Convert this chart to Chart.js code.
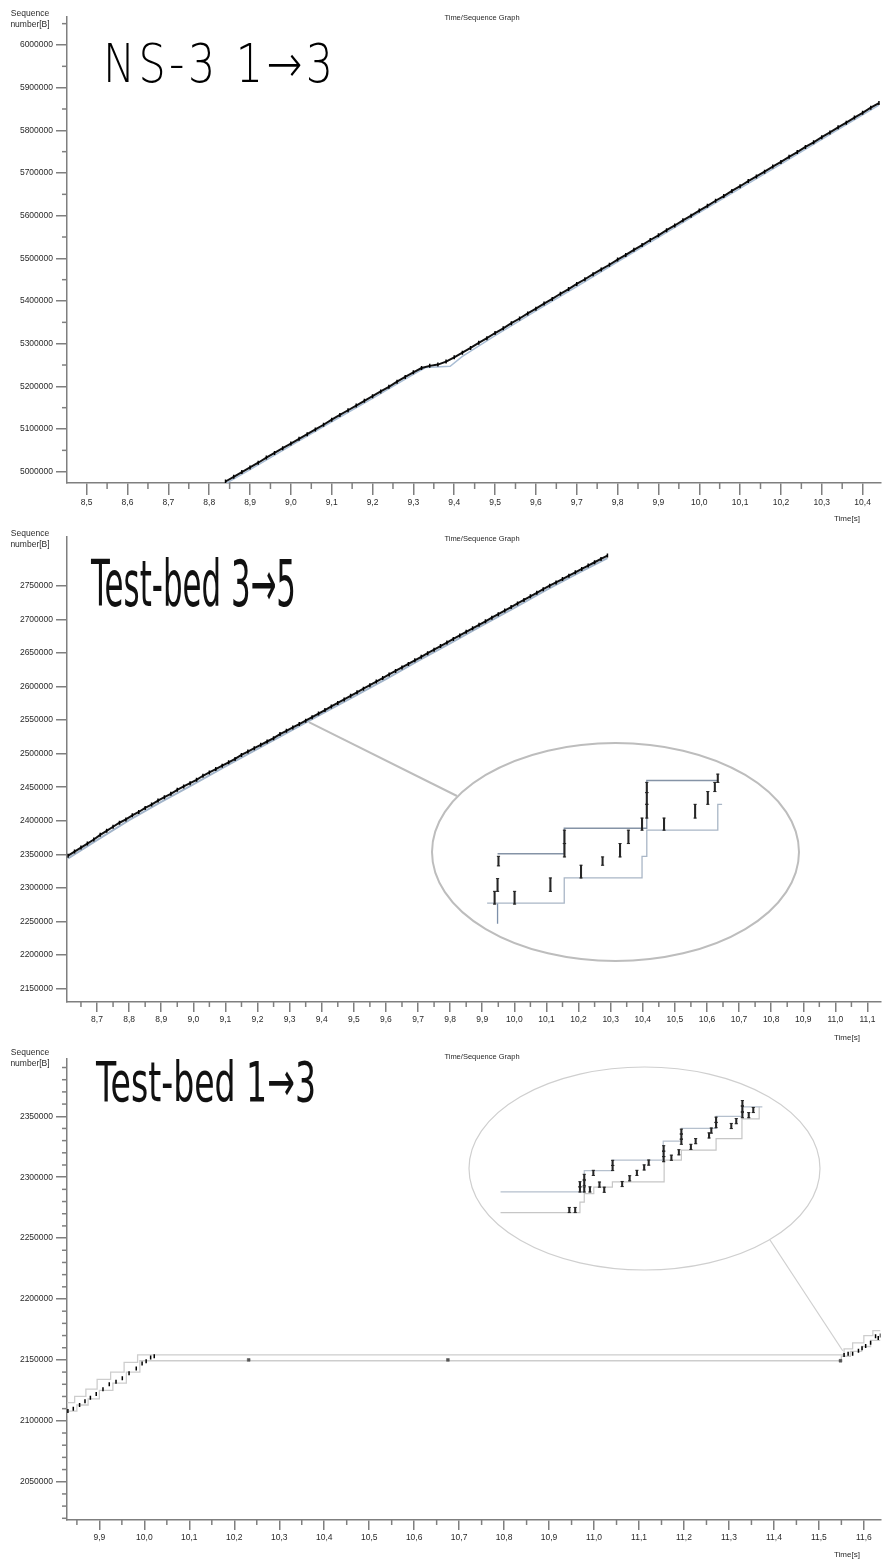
<!DOCTYPE html>
<html lang="en">
<head>
<meta charset="UTF-8">
<title>Time/Sequence Graph</title>
<script src="https://cdn.jsdelivr.net/npm/chart.js@4.4.1/dist/chart.umd.min.js"></script>
<style>
  body { margin: 0; background: #fff; width: 886px; height: 1563px; position: relative; overflow: hidden;
         font-family: 'Liberation Sans', Arial, sans-serif; color: #2a2a2a; }
  canvas { position: absolute; left: 0; }
  .ylab { position: absolute; left: 8px; width: 44px; text-align: center; font-size: 8.5px; line-height: 10.5px; }
  .ttl { position: absolute; left: 402px; width: 160px; text-align: center; font-size: 7.5px; line-height: 10px; }
  .xlab { position: absolute; left: 834px; font-size: 8px; line-height: 10px; }
  .big { position: absolute; white-space: nowrap; line-height: 1; transform-origin: 0 0; color: #000;
         font-family: 'DejaVu Sans', sans-serif; display: inline-block; }
</style>
</head>
<body>

<canvas id="c1" width="886" height="525" style="top:0"></canvas>
<canvas id="c2" width="886" height="520" style="top:525px"></canvas>
<canvas id="c3" width="886" height="518" style="top:1045px"></canvas>
<canvas id="i2" width="367" height="218" style="left:432px;top:743px"></canvas>
<canvas id="i3" width="351" height="203" style="left:469px;top:1067px"></canvas>

<div class="ylab" style="top:8px">Sequence<br>number[B]</div>
<div class="ylab" style="top:528px">Sequence<br>number[B]</div>
<div class="ylab" style="top:1047px">Sequence<br>number[B]</div>
<div class="ttl" style="top:13px">Time/Sequence Graph</div>
<div class="ttl" style="top:534px">Time/Sequence Graph</div>
<div class="ttl" style="top:1052px">Time/Sequence Graph</div>
<div class="xlab" style="top:514px">Time[s]</div>
<div class="xlab" style="top:1033px">Time[s]</div>
<div class="xlab" style="top:1550px">Time[s]</div>

<div class="big" id="t1" style="left:103px;top:37px;font-size:53px;font-weight:200;letter-spacing:0.08em" data-w="230">NS-3 1→3</div>
<div class="big" id="t2" style="left:91px;top:552px;font-size:64px;color:#111" data-w="205">Test-bed 3→5</div>
<div class="big" id="t3" style="left:96px;top:1054px;font-size:56px;color:#111" data-w="220">Test-bed 1→3</div>

<script>
// ---------- NS-3 1->3 (top panel) ----------
const ns3XTicks = [8.5, 8.6, 8.7, 8.8, 8.9, 9.0, 9.1, 9.2, 9.3, 9.4,
                   9.5, 9.6, 9.7, 9.8, 9.9, 10.0, 10.1, 10.2, 10.3, 10.4];
const ns3YTicks = [5000000, 5100000, 5200000, 5300000, 5400000, 5500000,
                   5600000, 5700000, 5800000, 5900000, 6000000];
const ns3Time = [
  8.84, 8.86, 8.88, 8.90, 8.92, 8.94, 8.96, 8.98, 9.00, 9.02,
  9.04, 9.06, 9.08, 9.10, 9.12, 9.14, 9.16, 9.18, 9.20, 9.22,
  9.24, 9.26, 9.28, 9.30, 9.32, 9.34, 9.36, 9.38, 9.40, 9.42,
  9.44, 9.46, 9.48, 9.50, 9.52, 9.54, 9.56, 9.58, 9.60, 9.62,
  9.64, 9.66, 9.68, 9.70, 9.72, 9.74, 9.76, 9.78, 9.80, 9.82,
  9.84, 9.86, 9.88, 9.90, 9.92, 9.94, 9.96, 9.98, 10.00, 10.02,
  10.04, 10.06, 10.08, 10.10, 10.12, 10.14, 10.16, 10.18, 10.20, 10.22,
  10.24, 10.26, 10.28, 10.30, 10.32, 10.34, 10.36, 10.38, 10.40, 10.42,
  10.44];
const ns3Seq = [
  4977000, 4988000, 4999000, 5010000, 5021000, 5033000, 5044000, 5055000, 5066000, 5077000,
  5088000, 5099000, 5110000, 5122000, 5133000, 5144000, 5155000, 5166000, 5177000, 5188000,
  5199000, 5211000, 5222000, 5233000, 5243000, 5248000, 5251000, 5258000, 5268000, 5279000,
  5290000, 5302000, 5313000, 5325000, 5336000, 5348000, 5359000, 5371000, 5382000, 5394000,
  5405000, 5417000, 5428000, 5440000, 5451000, 5463000, 5474000, 5485000, 5497000, 5508000,
  5520000, 5531000, 5543000, 5554000, 5566000, 5577000, 5589000, 5600000, 5612000, 5623000,
  5635000, 5646000, 5658000, 5669000, 5681000, 5692000, 5703000, 5715000, 5726000, 5738000,
  5749000, 5761000, 5772000, 5784000, 5795000, 5807000, 5818000, 5830000, 5841000, 5853000,
  5864000];
const ns3AckTime = [8.84, 8.90, 9.00, 9.10, 9.20, 9.30, 9.33, 9.39, 9.42, 9.50, 9.60, 9.70,
                    9.80, 9.90, 10.00, 10.10, 10.20, 10.30, 10.40, 10.44];
const ns3AckSeq  = [4972000, 5005000, 5061000, 5117000, 5172000, 5228000, 5244000, 5247000, 5270000, 5319000,
                    5377000, 5434000, 5492000, 5549000, 5607000, 5664000, 5721000, 5779000, 5836000, 5859000];

// ---------- Test-bed 3->5 (middle panel) ----------
const tb35XTicks = [8.7, 8.8, 8.9, 9.0, 9.1, 9.2, 9.3, 9.4, 9.5, 9.6, 9.7, 9.8, 9.9,
                    10.0, 10.1, 10.2, 10.3, 10.4, 10.5, 10.6, 10.7, 10.8, 10.9, 11.0, 11.1];
const tb35YTicks = [2150000, 2200000, 2250000, 2300000, 2350000, 2400000, 2450000,
                    2500000, 2550000, 2600000, 2650000, 2700000, 2750000];
const tb35Time = [
  8.61, 8.63, 8.65, 8.67, 8.69, 8.71, 8.73, 8.75, 8.77, 8.79,
  8.81, 8.83, 8.85, 8.87, 8.89, 8.91, 8.93, 8.95, 8.97, 8.99,
  9.01, 9.03, 9.05, 9.07, 9.09, 9.11, 9.13, 9.15, 9.17, 9.19,
  9.21, 9.23, 9.25, 9.27, 9.29, 9.31, 9.33, 9.35, 9.37, 9.39,
  9.41, 9.43, 9.45, 9.47, 9.49, 9.51, 9.53, 9.55, 9.57, 9.59,
  9.61, 9.63, 9.65, 9.67, 9.69, 9.71, 9.73, 9.75, 9.77, 9.79,
  9.81, 9.83, 9.85, 9.87, 9.89, 9.91, 9.93, 9.95, 9.97, 9.99,
  10.01, 10.03, 10.05, 10.07, 10.09, 10.11, 10.13, 10.15, 10.17, 10.19,
  10.21, 10.23, 10.25, 10.27, 10.29];
const tb35Seq = [
  2348000, 2354000, 2360000, 2366000, 2372000, 2379000, 2385000, 2391000, 2397000, 2402000,
  2408000, 2413000, 2419000, 2424000, 2430000, 2435000, 2440000, 2446000, 2451000, 2456000,
  2461000, 2467000, 2472000, 2477000, 2482000, 2487000, 2492000, 2498000, 2503000, 2508000,
  2513000, 2518000, 2523000, 2529000, 2534000, 2539000, 2544000, 2549000, 2554300, 2559600,
  2564900, 2570200, 2575400, 2580700, 2586000, 2591300, 2596600, 2601900, 2607200, 2612500,
  2617800, 2623100, 2628400, 2633600, 2638900, 2644200, 2649500, 2654800, 2660100, 2665400,
  2670700, 2676000, 2681300, 2686600, 2691800, 2697100, 2702400, 2707700, 2713000, 2718300,
  2723600, 2728900, 2734200, 2739500, 2744800, 2750000, 2755000, 2760000, 2765000, 2770000,
  2775000, 2780000, 2785000, 2790000, 2795000];
const tb35AckTime = [8.61, 8.70, 8.80, 8.90, 9.00, 9.10, 9.20, 9.30, 9.40, 9.50,
                     9.60, 9.70, 9.80, 9.90, 10.00, 10.10, 10.20, 10.29];
const tb35AckSeq  = [2344000, 2371000, 2401000, 2428000, 2454000, 2481000, 2507000, 2533000, 2559000, 2585000,
                     2611000, 2638000, 2664000, 2691000, 2717000, 2744000, 2769000, 2791000];

// zoom inset (relative time in ms, relative sequence in segments)
const z35Time = [3.3, 4.6, 5.0, 12.1, 27.9, 34.1, 34.1, 41.4, 50.9, 58.6,
                 62.3, 68.3, 70.4, 70.4, 70.4, 78.0, 91.7, 97.3, 100.4, 101.7];
const z35Lo   = [0, 1.0, 3.0, 0, 1.0, 3.7, 4.75, 2.05, 3.05, 3.7,
                 4.75, 5.8, 6.75, 7.83, 8.75, 5.8, 6.75, 7.83, 8.83, 9.55];
const z35Hi   = [1.0, 2.0, 3.75, 1.0, 2.05, 4.75, 5.8, 3.05, 3.7, 4.75,
                 5.8, 6.75, 7.83, 8.75, 9.55, 6.75, 7.83, 8.83, 9.55, 10.2];
const z35WinTime = [4.6, 34.0, 34.0, 70.4, 70.4, 101.7];
const z35WinSeq  = [3.95, 3.95, 5.95, 5.95, 9.7, 9.7];
const z35AckTime = [0, 34.0, 34.0, 68.3, 68.3, 70.4, 70.4, 101.7, 101.7, 103.6];
const z35AckSeq  = [0.075, 0.075, 2.05, 2.05, 3.75, 3.75, 5.8, 5.8, 7.83, 7.83];
const z35StubTime = [4.6, 4.6];
const z35StubSeq  = [0.075, -1.55];

// ---------- Test-bed 1->3 (bottom panel) ----------
const tb13XTicks = [9.9, 10.0, 10.1, 10.2, 10.3, 10.4, 10.5, 10.6, 10.7,
                    10.8, 10.9, 11.0, 11.1, 11.2, 11.3, 11.4, 11.5, 11.6];
const tb13YTicks = [2050000, 2100000, 2150000, 2200000, 2250000, 2300000, 2350000];
const tb13Time = [9.830, 9.842, 9.856, 9.868, 9.880, 9.893, 9.908, 9.922, 9.937, 9.951,
                  9.966, 9.982, 9.995, 10.004, 10.014, 10.022,
                  11.556, 11.565, 11.575, 11.588, 11.596, 11.604, 11.615, 11.626, 11.632, 11.637];
const tb13Seq  = [2108000, 2110000, 2113000, 2116000, 2119000, 2122000, 2126000, 2130000, 2132000, 2135000,
                  2139000, 2143000, 2147000, 2149000, 2152000, 2153000,
                  2154000, 2155000, 2155000, 2157500, 2159500, 2161500, 2164000, 2169500, 2168000, 2170000];
const tb13LossTime = [10.232, 10.675, 11.548];
const tb13LossSeq  = [2150000, 2150000, 2149300];
const tb13WinTime = [9.828, 9.845, 9.870, 9.895, 9.925, 9.955, 9.985, 10.008, 10.022,
                     11.556, 11.575, 11.600, 11.620, 11.637];
const tb13WinSeq  = [2112000, 2115000, 2120000, 2126000, 2134000, 2140000, 2148000, 2154200, 2154200,
                     2154200, 2159000, 2164000, 2170000, 2174000];
const tb13AckTime = [9.828, 9.850, 9.875, 9.900, 9.930, 9.960, 9.990, 10.004,
                     11.550, 11.570, 11.595, 11.615, 11.637];
const tb13AckSeq  = [2104000, 2108000, 2113000, 2118000, 2125000, 2131000, 2140000, 2149300,
                     2149300, 2153000, 2157000, 2161000, 2166000];

const z13Time = [30.3, 32.9, 35.0, 35.0, 36.9, 36.9, 36.9, 39.4, 40.9, 43.6,
                 45.7, 49.4, 49.4, 53.6, 56.9, 60.1, 63.3, 65.3, 71.9, 71.9,
                 71.9, 75.3, 78.6, 79.7, 79.7, 79.7, 83.9, 86.0, 91.9, 92.9,
                 95.0, 95.0, 101.7, 103.9, 106.6, 106.6, 106.6, 109.4, 111.4];
const z13Lo   = [0, 0, 3.6, 4.5, 3.6, 4.7, 5.8, 3.6, 6.5, 4.45,
                 3.55, 7.35, 8.25, 4.55, 5.55, 6.5, 7.45, 8.3, 8.9, 9.8,
                 10.8, 9.15, 10.1, 11.95, 12.85, 13.75, 11.05, 12.05, 13.05, 13.9,
                 14.85, 15.8, 14.7, 15.55, 16.6, 17.7, 18.7, 16.6, 17.5];
const z13Hi   = [0.9, 0.9, 4.5, 5.4, 4.5, 5.6, 6.7, 4.5, 7.4, 5.35,
                 4.45, 8.25, 9.15, 5.45, 6.45, 7.4, 8.35, 9.2, 9.8, 10.7,
                 11.7, 10.05, 11.0, 12.85, 13.75, 14.6, 11.95, 12.95, 13.95, 14.8,
                 15.75, 16.7, 15.6, 16.45, 17.5, 18.6, 19.6, 17.5, 18.4];
const z13WinTime = [0, 36.9, 36.9, 49.3, 49.3, 71.7, 71.7, 79.7, 79.7, 95, 95, 106.4, 106.4, 115.4];
const z13WinSeq  = [3.61, 3.61, 7.33, 7.33, 9.17, 9.17, 12.5, 12.5, 14.72, 14.72, 16.83, 16.83, 18.5, 18.5];
const z13AckTime = [0, 35, 35, 36.9, 36.9, 41.1, 41.1, 49.3, 49.3, 72.1, 72.1, 79.7, 79.7, 95, 95, 106.4, 106.4, 114, 114];
const z13AckSeq  = [0, 0, 1.83, 1.83, 3.33, 3.33, 4.44, 4.44, 5.39, 5.39, 9.17, 9.17, 10.94, 10.94, 12.94, 12.94, 16.39, 16.39, 18.5];

// ---------- helpers ----------
const pts = (xs, ys) => xs.map((x, i) => ({ x: x, y: ys[i] }));
const AXIS = '#7f7f7f';
const tickFont = { family: "'Liberation Sans', Arial, sans-serif", size: 8.5 };

// short ticks between the labelled ones
const minorTicks = {
  id: 'minorTicks',
  afterDraw(chart, args, opts) {
    const ctx = chart.ctx;
    ctx.save();
    ctx.strokeStyle = AXIS;
    ctx.lineWidth = 1.5;
    for (const axis of ['x', 'y']) {
      const o = opts[axis];
      if (!o) continue;
      const s = chart.scales[axis];
      const i0 = Math.ceil(s.min / o.step), i1 = Math.floor(s.max / o.step);
      for (let i = i0; i <= i1; i++) {
        if (i % o.every === 0) continue;
        const p = s.getPixelForValue(i * o.step);
        ctx.beginPath();
        if (axis === 'x') { ctx.moveTo(p, s.top); ctx.lineTo(p, s.top + o.len); }
        else { ctx.moveTo(s.right, p); ctx.lineTo(s.right - o.len, p); }
        ctx.stroke();
      }
    }
    ctx.restore();
  }
};

// zoom ellipse + leader line (page coordinates, leader starts on a data point)
const callout = {
  id: 'callout',
  afterDatasetsDraw(chart, args, o) {
    if (!o || !o.ellipse) return;
    const ctx = chart.ctx, top = o.panelTop;
    const [cx, cy, rx, ry] = o.ellipse;
    ctx.save();
    ctx.strokeStyle = o.color;
    ctx.lineWidth = o.width;
    ctx.beginPath();
    ctx.ellipse(cx, cy - top, rx, ry, 0, 0, 2 * Math.PI);
    ctx.stroke();
    const px = chart.scales.x.getPixelForValue(o.from[0]);
    const py = chart.scales.y.getPixelForValue(o.from[1]);
    ctx.beginPath();
    ctx.moveTo(px, py);
    ctx.lineTo(o.to[0], o.to[1] - top);
    ctx.stroke();
    ctx.restore();
  }
};

function seqGraph(id, c) {
  return new Chart(document.getElementById(id), {
    type: 'scatter',
    data: { datasets: c.datasets },
    options: {
      responsive: false,
      animation: false,
      events: [],
      layout: { padding: { top: c.padTop, left: 0, right: 0, bottom: 0 } },
      plugins: {
        legend: { display: false },
        tooltip: { enabled: false },
        minorTicks: c.minor,
        callout: c.callout || {}
      },
      scales: {
        x: {
          type: 'linear', min: c.xMin, max: c.xMax,
          afterBuildTicks: s => { s.ticks = c.xTicks.map(v => ({ value: v })); },
          ticks: { autoSkip: false, maxRotation: 0, padding: 3, color: '#2a2a2a', font: tickFont,
                   callback: v => v.toFixed(1).replace('.', ',') },
          grid: { drawOnChartArea: false, tickLength: c.xTick, color: AXIS, lineWidth: 1.5 },
          border: { color: AXIS, width: 1.5 },
          afterFit: s => { s.height = c.xAxisH; }
        },
        y: {
          type: 'linear', min: c.yMin, max: c.yMax,
          afterBuildTicks: s => { s.ticks = c.yTicks.map(v => ({ value: v })); },
          ticks: { autoSkip: false, padding: 3, color: '#2a2a2a', font: tickFont,
                   callback: v => String(Math.round(v)) },
          grid: { drawOnChartArea: false, tickLength: 11, color: AXIS, lineWidth: 1.5 },
          border: { color: AXIS, width: 1.5 },
          afterFit: s => { s.width = 67; }
        }
      }
    },
    plugins: [minorTicks, callout]
  });
}

function segs(xs, ys, showLine) {
  return { data: pts(xs, ys), showLine: showLine, borderColor: '#111', borderWidth: 2,
           pointStyle: 'line', rotation: 90, pointRadius: 2,
           pointBorderColor: '#000', pointBorderWidth: 1.5 };
}
function line(xs, ys, color, width, stepped) {
  return { data: pts(xs, ys), showLine: true, borderColor: color, borderWidth: width,
           pointRadius: 0, stepped: stepped || false };
}

// ---------- main graphs ----------
seqGraph('c1', {
  padTop: 17, xAxisH: 42, xTick: 12,
  xMin: 8.4518, xMax: 10.4438, yMin: 4973500, yMax: 6065600,
  xTicks: ns3XTicks, yTicks: ns3YTicks,
  minor: { x: { step: 0.05, every: 2, len: 6 }, y: { step: 50000, every: 2, len: 5 } },
  datasets: [
    segs(ns3Time, ns3Seq, true),
    line(ns3AckTime, ns3AckSeq, '#a9bdd4', 1.5)
  ]
});

seqGraph('c2', {
  padTop: 12, xAxisH: 43, xTick: 10,
  xMin: 8.6065, xMax: 11.1406, yMin: 2130000, yMax: 2822600,
  xTicks: tb35XTicks, yTicks: tb35YTicks,
  minor: { x: { step: 0.05, every: 2, len: 5 } },
  callout: { panelTop: 525, ellipse: [615.5, 852, 183.5, 109], from: [9.36, 2547000], to: [457, 796],
             color: '#bdbdbd', width: 2 },
  datasets: [
    segs(tb35Time, tb35Seq, true),
    line(tb35AckTime, tb35AckSeq, '#a3b5ca', 2)
  ]
});

seqGraph('c3', {
  padTop: 14, xAxisH: 43, xTick: 10,
  xMin: 9.828, xMax: 11.637, yMin: 2018600, yMax: 2397000,
  xTicks: tb13XTicks, yTicks: tb13YTicks,
  minor: { x: { step: 0.05, every: 2, len: 5 }, y: { step: 10000, every: 5, len: 5 } },
  callout: { panelTop: 1045, ellipse: [644.5, 1168.5, 175.5, 101.5], from: [11.553, 2157500], to: [770, 1240],
             color: '#cfcfcf', width: 1.2 },
  datasets: [
    segs(tb13Time, tb13Seq, false),
    { data: pts(tb13LossTime, tb13LossSeq), pointStyle: 'rect', pointRadius: 2,
      backgroundColor: '#555', borderColor: '#555', borderWidth: 0.5 },
    line(tb13WinTime, tb13WinSeq, '#cdcdcd', 1.3, 'after'),
    line(tb13AckTime, tb13AckSeq, '#cdcdcd', 1.3, 'after')
  ]
});

// ---------- zoom insets ----------
function inset(id, c) {
  const caps = [];
  c.time.forEach((t, i) => { caps.push({ x: t, y: c.lo[i] }, { x: t, y: c.hi[i] }); });
  return new Chart(document.getElementById(id), {
    type: 'scatter',
    data: {
      datasets: [
        { type: 'bar', data: c.time.map((t, i) => ({ x: t, y: [c.lo[i], c.hi[i]] })),
          backgroundColor: '#262626', barThickness: 1.4 },
        { data: caps, pointStyle: 'line', pointRadius: 1.6, pointBorderColor: '#262626', pointBorderWidth: 1 },
        ...c.lines
      ]
    },
    options: {
      responsive: false, animation: false, events: [],
      layout: { padding: 0 },
      plugins: { legend: { display: false }, tooltip: { enabled: false } },
      scales: {
        x: { type: 'linear', display: false, offset: false, min: c.xMin, max: c.xMax },
        y: { type: 'linear', display: false, min: c.yMin, max: c.yMax }
      }
    }
  });
}

inset('i2', {
  time: z35Time, lo: z35Lo, hi: z35Hi,
  xMin: -22.1, xMax: 135.3, yMin: -4.075, yMax: 12.25,
  lines: [
    line(z35WinTime, z35WinSeq, '#8593a6', 1.3),
    line(z35AckTime, z35AckSeq, '#a9b6c6', 1.3),
    line(z35StubTime, z35StubSeq, '#7d90aa', 1.3)
  ]
});

inset('i3', {
  time: z13Time, lo: z13Lo, hi: z13Hi,
  xMin: -11.7, xMax: 138.6, yMin: -9.17, yMax: 24.6,
  lines: [
    line(z13WinTime, z13WinSeq, '#b5c0cd', 1.2),
    line(z13AckTime, z13AckSeq, '#c6c6c6', 1.2)
  ]
});

// ---------- squeeze the big labels to their width ----------
document.querySelectorAll('.big').forEach(el => {
  const ls = parseFloat(getComputedStyle(el).letterSpacing) || 0;
  const w = el.getBoundingClientRect().width - ls;
  el.style.transform = 'scaleX(' + (parseFloat(el.dataset.w) / w) + ')';
});
</script>
</body>
</html>
